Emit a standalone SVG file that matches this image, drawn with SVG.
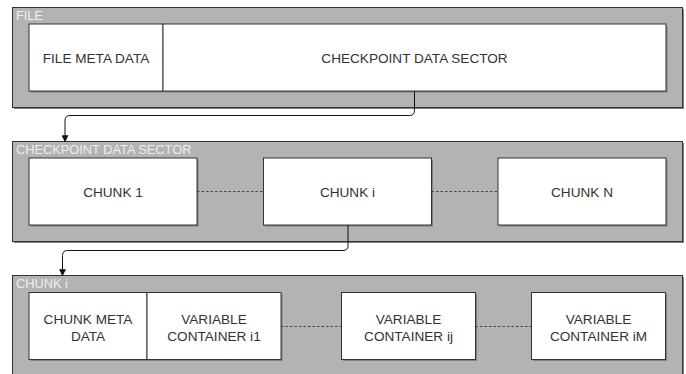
<svg xmlns="http://www.w3.org/2000/svg" width="686" height="374" viewBox="0 0 686 374">
<defs>
<style>
.cont{fill:#b3b3b3;stroke:#333333;stroke-width:1}
.sh{fill:#808080;stroke:none}
.box{fill:#ffffff;stroke:#333333;stroke-width:1}
.clab{font-family:"Liberation Sans",Arial,sans-serif;font-size:12.8px;fill:#eeeeee}
.t{font-family:"Liberation Sans",Arial,sans-serif;font-size:13.6px;fill:#333333;text-anchor:middle}
.dot{stroke:#444444;stroke-width:1;stroke-dasharray:2.5 2;fill:none}
.arr{stroke:#111111;stroke-width:1;fill:none;marker-end:url(#ah)}
</style>
<marker id="ah" viewBox="0 0 10 10" refX="9" refY="5" markerWidth="7" markerHeight="7" markerUnits="userSpaceOnUse" orient="auto">
<path d="M0,0 L10,5 L0,10 z" fill="#111111"/>
</marker>
</defs>
<rect width="686" height="374" fill="#ffffff"/>

<g id="file">
<rect class="sh" x="14" y="9" width="670" height="100"/>
<rect class="cont" x="12.5" y="7.5" width="670" height="100"/>
<text class="clab" x="16" y="20.3">FILE</text>
</g>
<g id="file-meta-data">
<rect class="sh" x="30" y="25.5" width="134" height="67"/>
<rect class="box" x="29" y="24" width="134" height="67"/>
<text class="t" x="96" y="63">FILE META DATA</text>
</g>
<g id="checkpoint-data-sector-box">
<rect class="sh" x="164.5" y="25.5" width="503" height="67"/>
<rect class="box" x="163" y="24" width="503" height="67"/>
<text class="t" x="414.5" y="63">CHECKPOINT DATA SECTOR</text>
</g>

<g id="checkpoint-data-sector">
<rect class="sh" x="14" y="143" width="670" height="100"/>
<rect class="cont" x="12.5" y="141.5" width="670" height="100"/>
<text class="clab" x="16" y="154.3">CHECKPOINT DATA SECTOR</text>
</g>
<g id="chunk-1">
<rect class="sh" x="30.5" y="159.5" width="168" height="67"/>
<rect class="box" x="29" y="158" width="168" height="67"/>
<text class="t" x="113" y="196.5">CHUNK 1</text>
</g>
<g id="chunk-i">
<rect class="sh" x="265" y="159.5" width="168" height="67"/>
<rect class="box" x="263.5" y="158" width="168" height="67"/>
<text class="t" x="347.5" y="196.5">CHUNK i</text>
</g>
<g id="chunk-n">
<rect class="sh" x="499.5" y="159.5" width="168" height="67"/>
<rect class="box" x="498" y="158" width="168" height="67"/>
<text class="t" x="582" y="196.5">CHUNK N</text>
</g>

<g id="chunk-i-container">
<rect class="sh" x="14" y="277" width="670" height="100"/>
<rect class="cont" x="12.5" y="275.5" width="670" height="100"/>
<text class="clab" x="16" y="288.3">CHUNK i</text>
</g>
<g id="chunk-meta-data">
<rect class="sh" x="30.5" y="294" width="118" height="67"/>
<rect class="box" x="29" y="292.5" width="118" height="67"/>
<text class="t" x="88" y="323.8">CHUNK META</text>
<text class="t" x="88" y="341.2">DATA</text>
</g>
<g id="variable-container-i1">
<rect class="sh" x="148.5" y="294" width="134" height="67"/>
<rect class="box" x="147" y="292.5" width="134" height="67"/>
<text class="t" x="214" y="323.8">VARIABLE</text>
<text class="t" x="214" y="341.2">CONTAINER i1</text>
</g>
<g id="variable-container-ij">
<rect class="sh" x="343" y="294" width="134" height="67"/>
<rect class="box" x="341.5" y="292.5" width="134" height="67"/>
<text class="t" x="408.5" y="323.8">VARIABLE</text>
<text class="t" x="408.5" y="341.2">CONTAINER ij</text>
</g>
<g id="variable-container-im">
<rect class="sh" x="533" y="294" width="134" height="67"/>
<rect class="box" x="531.5" y="292.5" width="134" height="67"/>
<text class="t" x="598.5" y="323.8">VARIABLE</text>
<text class="t" x="598.5" y="341.2">CONTAINER iM</text>
</g>

<g id="connectors">
<path class="dot" d="M197 191.5 H263.5"/>
<path class="dot" d="M431.5 191.5 H498"/>
<path class="dot" d="M281 326.5 H341.5"/>
<path class="dot" d="M475.5 326.5 H531.5"/>
<path class="arr" d="M414.5 91 V110.5 Q414.5 115.5 409.5 115.5 H70 Q65 115.5 65 120.5 V141.5"/>
<path class="arr" d="M348 225 V245.5 Q348 250.5 343 250.5 H67.5 Q62.5 250.5 62.5 255.5 V275.5"/>
</g>
</svg>
